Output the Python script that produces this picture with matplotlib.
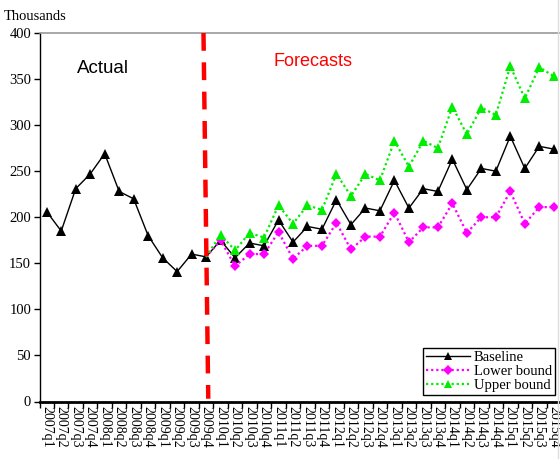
import matplotlib
matplotlib.use("Agg")
import matplotlib.pyplot as plt
from matplotlib.lines import Line2D

# Quarterly categories 2007q1 .. 2015q4
quarters = [f"{y}q{q}" for y in range(2007, 2016) for q in range(1, 5)]

# Actual observations (2007q1 .. 2009q4) followed by the baseline forecast (2010q1 .. 2015q4)
actual = [206, 185, 231, 247, 269, 228, 220, 180, 156, 141, 160, 157]
baseline_fc = [175, 156, 172, 169, 197, 173, 190, 187, 219, 192, 210, 207,
               240, 210, 231, 228, 263, 230, 253, 250, 288, 253, 277, 274]
lower_fc = [175, 147, 160, 160, 184, 155, 169, 169, 194, 165, 179, 179,
            205, 173, 189, 189, 215, 183, 200, 200, 228, 193, 211, 211]
upper_fc = [181, 164, 183, 178, 213, 193, 213, 208, 247, 223, 247, 240,
            283, 255, 283, 275, 320, 290, 319, 311, 364, 329, 363, 353]

serif = "Liberation Serif"
sans = "Liberation Sans"

fig = plt.figure(figsize=(5.6, 4.59), dpi=100)
W, H = 560, 459
left_px, right_px, top_px, bottom_px = 39.5, 561.0, 33.0, 401.5
ax = fig.add_axes([left_px / W, 1 - bottom_px / H,
                   (right_px - left_px) / W, (bottom_px - top_px) / H])

n_act = len(actual)
x_all = list(range(len(quarters)))
baseline = actual + baseline_fc
x_fc = x_all[n_act - 1:]
lower = [actual[-1]] + lower_fc
upper = [actual[-1]] + upper_fc

ax.plot(x_all, baseline, color="black", lw=1.0, marker="^", ms=6.5,
        markeredgewidth=0, zorder=3)
ax.plot(x_fc, lower, color="#ff00ff", lw=1.6, ls=(0, (1, 1.3)), marker="D",
        ms=5.4, markeredgewidth=0, markevery=list(range(1, len(lower))), zorder=4)
ax.plot(x_fc, upper, color="#00ee00", lw=1.6, ls=(0, (1, 1.3)), marker="^",
        ms=6.5, markeredgewidth=0, markevery=list(range(1, len(upper))), zorder=5)

# Boundary between history and forecast
ax.plot([10.82, 11.15], [400, 3], color="#ff0000", lw=3.2,
        ls=(0, (4, 2.6)), zorder=6, solid_capstyle="butt", dash_capstyle="butt")

ax.set_xlim(-0.5, len(quarters) - 0.5)
ax.set_ylim(0, 400)
ax.set_yticks(range(0, 401, 50))
ax.set_xticks([i + 0.5 for i in range(-1, len(quarters))], minor=False)
ax.set_xticklabels([])
ax.set_xticks(x_all, minor=True)
ax.set_xticklabels(quarters, minor=True, rotation=270, fontfamily=serif,
                   fontsize=10, va="top", ha="center")
ax.tick_params(axis="x", which="minor", length=0, pad=3)
ax.tick_params(axis="x", which="major", length=4, width=1, direction="out")
ax.tick_params(axis="y", length=4, width=1, direction="out", pad=2,
               labelsize=10.5)
for lab in ax.get_yticklabels():
    lab.set_fontfamily(serif)

ax.spines["left"].set_linewidth(1.0)
ax.spines["bottom"].set_linewidth(2.0)
ax.spines["top"].set_color("#999999")
ax.spines["top"].set_linewidth(1.2)
ax.spines["right"].set_visible(False)

ax.text(3.9, 362, "Actual", fontfamily=sans, fontsize=13.5, ha="center",
        va="center", color="black")
ax.text(18.4, 369, "Forecasts", fontfamily=sans, fontsize=13, ha="center",
        va="center", color="#ff0000")
fig.text(4 / W, 1 - 16 / H, "Thousands", fontfamily=serif, fontsize=10.5,
         ha="left", va="center")

handles = [
    Line2D([], [], color="black", lw=1.0, marker="^", ms=6, markeredgewidth=0),
    Line2D([], [], color="#ff00ff", lw=1.6, ls=(0, (1, 1.3)), marker="D",
           ms=5, markeredgewidth=0),
    Line2D([], [], color="#00ee00", lw=1.6, ls=(0, (1, 1.3)), marker="^",
           ms=6, markeredgewidth=0),
]
leg = ax.legend(handles, ["Baseline", "Lower bound", "Upper bound"],
                loc="lower right", bbox_to_anchor=(555 / W, 1 - 395 / H),
                bbox_transform=fig.transFigure, fancybox=False,
                edgecolor="black", framealpha=1, prop={"family": serif, "size": 10.5},
                handlelength=3.0, handletextpad=0.3, labelspacing=0.05,
                borderpad=0.2, borderaxespad=0)
leg.get_frame().set_linewidth(1.0)

# Chart-area edge on the right
fig.add_artist(Line2D([557.5 / W, 557.5 / W], [0, 1], color="#dddddd", lw=1.0,
                      transform=fig.transFigure))

fig.savefig("out.png", dpi=100)
